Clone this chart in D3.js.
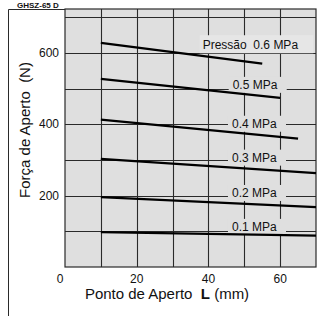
<!DOCTYPE html>
<html>
<head>
<meta charset="utf-8">
<script src="https://cdn.jsdelivr.net/npm/d3@7"></script>
<style>
  body { margin: 0; background: #fff; }
</style>
</head>
<body>
<div id="chart"></div>
<script>
// Data ----------------------------------------------
const xTicks = [0, 20, 40, 60];
const yTicks = [200, 400, 600];
const xGrid = [10, 20, 30, 40, 50, 60];
const yGrid = [100, 200, 300, 400, 500, 600, 700];

const pressures = ["0.6", "0.5", "0.4", "0.3", "0.2", "0.1"];
const lineStart = [[10, 628], [10, 527], [10, 413], [10, 303], [10, 196], [10, 98]];
const lineEnd = [[55, 570], [60, 474], [65, 360], [70, 263], [70, 168], [70, 88]];
const labelText = ["Pressão  0.6 MPa", "0.5 MPa", "0.4 MPa", "0.3 MPa", "0.2 MPa", "0.1 MPa"];
const labelAt = [[51.7, 622], [53, 511], [52.8, 402], [52.8, 307], [52.8, 208], [52.8, 113]];

// Constants ----------------------------------------------
const width = 317;
const height = 316;
const margin = {left: 65, right: 1, top: 9, bottom: 49};
const bgColor = "#dfdfdf";
const gridColor = "#2a2a2a";
const font = "'Liberation Sans', Arial, sans-serif";

// Scales ----------------------------------------------
const xScale = d3.scaleLinear()
  .domain([0, 70])
  .range([margin.left, width - margin.right]);

const yScale = d3.scaleLinear()
  .domain([0, 723])
  .range([height - margin.bottom, margin.top]);

const svg = d3.select("#chart")
  .append("svg")
  .attr("width", width)
  .attr("height", height)
  .attr("font-family", font);

// Plot background
svg.append("rect")
  .attr("x", xScale(0))
  .attr("y", yScale(723))
  .attr("width", xScale(70) - xScale(0))
  .attr("height", yScale(0) - yScale(723))
  .attr("fill", bgColor);

// Grid
svg.append("g")
  .selectAll("line")
  .data(xGrid)
  .enter()
  .append("line")
  .attr("x1", d => Math.round(xScale(d)) + 0.5)
  .attr("x2", d => Math.round(xScale(d)) + 0.5)
  .attr("y1", yScale(0))
  .attr("y2", yScale(723))
  .attr("stroke", gridColor)
  .attr("stroke-width", 1.1);

svg.append("g")
  .selectAll("line")
  .data(yGrid)
  .enter()
  .append("line")
  .attr("x1", xScale(0))
  .attr("x2", xScale(70))
  .attr("y1", d => Math.round(yScale(d)) + 0.5)
  .attr("y2", d => Math.round(yScale(d)) + 0.5)
  .attr("stroke", gridColor)
  .attr("stroke-width", 1.1);

// Plot border and outer frame
svg.append("rect")
  .attr("x", xScale(0))
  .attr("y", yScale(723))
  .attr("width", xScale(70) - xScale(0))
  .attr("height", yScale(0) - yScale(723))
  .attr("fill", "none")
  .attr("stroke", gridColor)
  .attr("stroke-width", 1.2);

svg.append("path")
  .attr("d", `M8.5,${height} V${margin.top + 0.5} H${margin.left}`)
  .attr("fill", "none")
  .attr("stroke", gridColor)
  .attr("stroke-width", 1);

// Title, kept small so it stays inside the picture
svg.append("text")
  .attr("x", 17)
  .attr("y", 7.5)
  .attr("font-size", 8)
  .attr("font-weight", "bold")
  .attr("fill", "#111")
  .text("GHSZ-65 D");

// Pressure labels with boxes that hide the grid
const labels = svg.append("g")
  .selectAll("g")
  .data(labelText.map((t, i) => ({text: t, x: labelAt[i][0], y: labelAt[i][1], top: i === 0})))
  .enter()
  .append("g");

labels.append("rect");
labels.append("text")
  .attr("x", d => xScale(d.x))
  .attr("y", d => yScale(d.y))
  .attr("dy", "0.35em")
  .attr("text-anchor", "middle")
  .attr("font-size", 12)
  .attr("fill", "#111")
  .attr("xml:space", "preserve")
  .text(d => d.text);

labels.each(function (d) {
  const g = d3.select(this);
  const bb = g.select("text").node().getBBox();
  const padL = d.top ? 3 : 4;
  const padR = d.top ? 15 : 9;
  g.select("rect")
    .attr("x", bb.x - padL)
    .attr("y", bb.y - (d.top ? 3 : 1))
    .attr("width", bb.width + padL + padR)
    .attr("height", bb.height + (d.top ? 4 : 2))
    .attr("fill", d.top ? "#e6e6e6" : bgColor);
});

// Data lines
svg.append("g")
  .selectAll("line")
  .data(pressures.map((p, i) => ({p, s: lineStart[i], e: lineEnd[i]})))
  .enter()
  .append("line")
  .attr("x1", d => xScale(d.s[0]))
  .attr("y1", d => yScale(d.s[1]))
  .attr("x2", d => xScale(d.e[0]))
  .attr("y2", d => yScale(d.e[1]))
  .attr("stroke", "#000")
  .attr("stroke-width", 2.2);

// Tick labels
svg.append("g")
  .selectAll("text")
  .data(xTicks)
  .enter()
  .append("text")
  .attr("x", d => d === 0 ? xScale(d) - 5 : xScale(d))
  .attr("y", yScale(0) + 16)
  .attr("text-anchor", "middle")
  .attr("font-size", 12)
  .attr("fill", "#111")
  .text(d => d);

svg.append("g")
  .selectAll("text")
  .data(yTicks)
  .enter()
  .append("text")
  .attr("x", xScale(0) - 6)
  .attr("y", d => yScale(d))
  .attr("dy", "0.35em")
  .attr("text-anchor", "end")
  .attr("font-size", 12)
  .attr("fill", "#111")
  .text(d => d);

// Axis titles
const xTitle = svg.append("text")
  .attr("x", 167)
  .attr("y", 299)
  .attr("text-anchor", "middle")
  .attr("font-size", 15)
  .attr("fill", "#111")
  .attr("xml:space", "preserve");
xTitle.append("tspan").text("Ponto de Aperto  ");
xTitle.append("tspan").attr("font-weight", "bold").text("L");
xTitle.append("tspan").text(" (mm)");

svg.append("text")
  .attr("transform", "translate(30,130) rotate(-90)")
  .attr("text-anchor", "middle")
  .attr("font-size", 15)
  .attr("fill", "#111")
  .attr("xml:space", "preserve")
  .text("Força de Aperto  (N)");
</script>
</body>
</html>
